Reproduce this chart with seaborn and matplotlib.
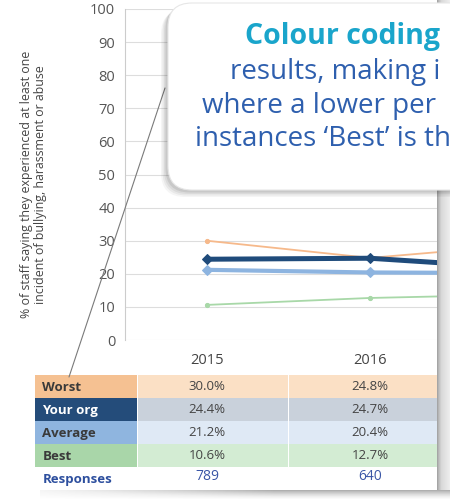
import matplotlib
matplotlib.use('Agg')
import numpy as np
import pandas as pd
import matplotlib.pyplot as plt
import seaborn as sns
from matplotlib.patches import FancyBboxPatch, Rectangle

# values (2017 is mostly beyond the page edge, estimated)
years = ['2015', '2016', '2017']
series = ['Worst', 'Your org', 'Average', 'Best']
worst = [30.0, 24.8, 29.0]
your_org = [24.4, 24.7, 21.5]
average = [21.2, 20.4, 20.2]
best = [10.6, 12.7, 13.8]
responses = ['789', '640', '']
y_ticks = [0, 10, 20, 30, 40, 50, 60, 70, 80, 90, 100]
y_label = '% of staff saying they experienced at least one\nincident of bullying, harassment or abuse'
# the callout runs off the right edge of the picture; only the visible part is kept
callout_title = 'Colour coding'
callout_lines = ['results, making i',
                 'where a lower per',
                 'instances \u2018Best\u2019 is th']

line_colors = ['#F6B98B', '#1F4B7B', '#8DB4E0', '#A8D8A8']
label_bg = ['#F5C192', '#244C7A', '#8FB5DF', '#A9D6A9']
label_fg = ['#3a3a3a', 'white', '#3a3a3a', '#3a3a3a']
cell_bg = ['#FBE0C5', '#C9D1DB', '#DFE9F5', '#D3ECD3']


def main():
    sns.set_style('white')
    plt.rcParams['font.family'] = ['Open Sans', 'DejaVu Sans']

    W, H = 450, 499
    fig = plt.figure(figsize=(W / 100, H / 100), dpi=100)
    fig.patch.set_facecolor('white')

    def box(x0, y0, x1, y1):
        return [x0 / W, 1 - y1 / H, (x1 - x0) / W, (y1 - y0) / H]

    df = pd.DataFrame({'year': np.arange(len(years)),
                       'Worst': worst, 'Your org': your_org,
                       'Average': average, 'Best': best})

    # chart
    ax = fig.add_axes(box(125, 9, 437, 340))
    widths = [1.3, 3.6, 3.0, 1.3]
    markers = ['o', 'D', 'D', 'o']
    msizes = [3, 5, 5, 3]
    for name, c, lw, m, ms in zip(series, line_colors, widths, markers, msizes):
        sns.lineplot(data=df, x='year', y=name, color=c, linewidth=lw,
                     marker=m, markersize=ms, markeredgecolor=c, ax=ax)
    ax.set_yticks(y_ticks)
    ax.set_xticks(range(len(years)))
    ax.set_xticklabels(years)
    x_right = 1.411
    ax.set_xlim(-0.5, x_right)
    ax.set_ylim(0, 100)
    ax.set_xlabel('')
    ax.set_ylabel(y_label, fontsize=8.9, color='#444444', linespacing=1.1)
    ax.yaxis.set_label_coords(-0.25, 0.47)
    ax.grid(axis='y', color='#dddddd', linewidth=0.8)
    ax.tick_params(axis='y', labelsize=10.5, labelcolor='#555555', length=0, pad=7)
    ax.tick_params(axis='x', labelsize=10.5, labelcolor='#444444', length=0, pad=9)
    for s in ['top', 'right', 'bottom']:
        ax.spines[s].set_visible(False)
    ax.spines['left'].set_color('#cccccc')

    # data table below the chart, sharing the year scale
    tx = fig.add_axes(box(35, 375, 437, 490))
    tx.set_xlim(-1.055, x_right)
    tx.set_ylim(5, 0)
    tx.axis('off')
    col_edge = -0.43
    for r, (name, vals) in enumerate(zip(series, [worst, your_org, average, best])):
        tx.add_patch(Rectangle((-1.055, r), col_edge + 1.055, 1, color=label_bg[r], lw=0))
        tx.text(-1.01, r + 0.55, name, fontsize=9.5, fontweight='bold',
                color=label_fg[r], va='center', ha='left')
        for i, v in enumerate(vals):
            left = col_edge + 0.004 if i == 0 else i - 0.495
            right = i + 0.495
            tx.add_patch(Rectangle((left, r), right - left, 1, color=cell_bg[r], lw=0))
            if i < x_right:  # columns past the page edge are not shown
                tx.text(i, r + 0.5, f'{v:.1f}%', fontsize=9.5, color='#444444',
                        va='center', ha='center')
    tx.text(-1.01, 4.55, 'Responses', fontsize=9.5, fontweight='bold',
            color='#2D4F9E', va='center', ha='left')
    for i, n in enumerate(responses):
        if i < x_right:
            tx.text(i, 4.4, n, fontsize=10, color='#3A56A6', va='center', ha='center')

    # overlay in pixel units: page edge shadows, callout and pointer
    ov = fig.add_axes([0, 0, 1, 1], zorder=10)
    ov.axis('off')
    ov.patch.set_alpha(0)
    side = np.concatenate([np.linspace(0.45, 0.3, 4), np.linspace(0.25, 0.14, 9)])[None, :]
    ov.imshow(side, extent=[437, 450, 490, 0], cmap='Greys', vmin=0, vmax=1,
              aspect='auto', zorder=1)
    under = np.linspace(0.42, 0.04, 9)[:, None] * np.clip(np.linspace(0.2, 1.6, 60), 0, 1)[None, :]
    ov.imshow(under, extent=[40, 450, H, 490], cmap='Greys', vmin=0, vmax=1,
              aspect='auto', zorder=1)
    ov.plot([165, 69], [88, 377], color='#7a7a7a', lw=0.8, zorder=2)
    for k, a in enumerate([0.04, 0.05, 0.06, 0.08]):
        d = 7 - k * 1.5
        ov.add_patch(FancyBboxPatch((168 - d, 3 + d), 320, 187,
                                    boxstyle='round,pad=0,rounding_size=24',
                                    facecolor='black', alpha=a, lw=0, zorder=3))
    ov.add_patch(FancyBboxPatch((168, 3), 320, 187,
                                boxstyle='round,pad=0,rounding_size=24',
                                facecolor='white', edgecolor='#e6e6e6', lw=0.8, zorder=4))
    ov.text(245, 44, callout_title, fontsize=20.5, fontweight='bold',
            color='#1AA5CB', ha='left', va='baseline', zorder=5)
    for (x0, y0), line in zip([(230, 79), (202, 113), (195, 146)], callout_lines):
        ov.text(x0, y0, line, fontsize=20, color='#2E5FAE', ha='left',
                va='baseline', zorder=5)
    ov.set_xlim(0, W)
    ov.set_ylim(H, 0)

    fig.savefig('out.png', dpi=100)


if __name__ == '__main__':
    main()
